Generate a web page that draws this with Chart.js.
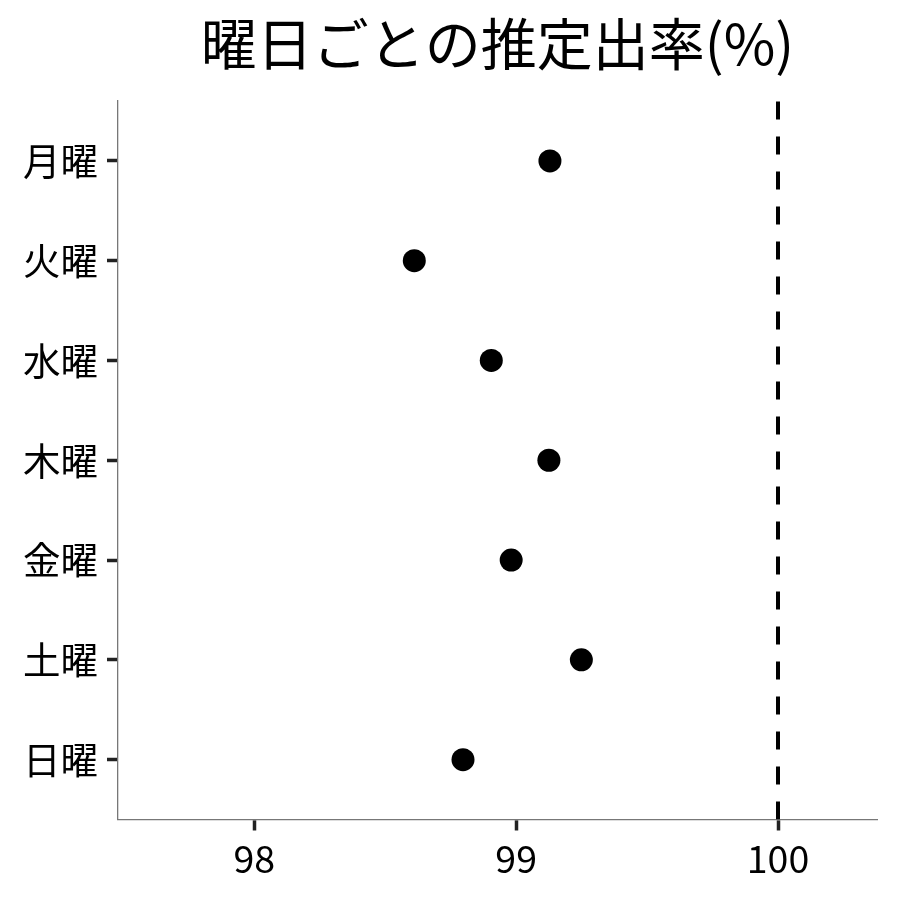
<!DOCTYPE html>
<html>
<head>
<meta charset="utf-8">
<script src="https://cdn.jsdelivr.net/npm/chart.js@4.4.1/dist/chart.umd.min.js"></script>
<style>
  html, body { margin: 0; padding: 0; background: #ffffff; }
  #wrap { width: 900px; height: 900px; }
</style>
</head>
<body>
<div id="wrap"><canvas id="c" width="900" height="900"></canvas></div>
<script>
// ---- data ----
const days = ["月曜", "火曜", "水曜", "木曜", "金曜", "土曜", "日曜"];
const rates = [99.129, 98.611, 98.905, 99.125, 98.981, 99.249, 98.797];
const xTicks = [98, 99, 100];
const refValue = 100;
const titleText = "曜日ごとの推定出率(%)";

const FONT = "'Noto Sans CJK JP', 'Noto Sans', sans-serif";

const refLine = {
  id: 'refLine',
  afterDatasetsDraw(chart) {
    const ctx = chart.ctx;
    const x = chart.scales.x.getPixelForValue(refValue);
    const area = chart.chartArea;
    ctx.save();
    ctx.beginPath();
    ctx.rect(area.left, area.top, area.right - area.left, area.bottom - area.top);
    ctx.clip();
    ctx.strokeStyle = '#000000';
    ctx.lineWidth = 4;
    ctx.setLineDash([18, 17]);
    ctx.beginPath();
    ctx.moveTo(x, area.bottom);
    ctx.lineTo(x, area.top);
    ctx.stroke();
    ctx.restore();
  }
};

const chart = new Chart(document.getElementById('c'), {
  type: 'scatter',
  data: {
    datasets: [{
      data: rates.map((v, i) => ({ x: v, y: i })),
      backgroundColor: '#000000',
      borderWidth: 0,
      pointRadius: 11.5,
      pointHoverRadius: 11.5
    }]
  },
  options: {
    responsive: false,
    animation: false,
    events: [],
    layout: { padding: { left: 0, right: 23, top: 0, bottom: 0 } },
    plugins: {
      legend: { display: false },
      tooltip: { enabled: false },
      title: {
        display: true,
        text: titleText,
        fullSize: false,
        color: '#000000',
        font: { family: FONT, size: 56, weight: 'normal', lineHeight: 1.2 },
        padding: { top: 10, bottom: 23.8 }
      }
    },
    scales: {
      x: {
        type: 'linear',
        position: 'bottom',
        min: 97.4795,
        max: 100.378,
        afterBuildTicks: (s) => { s.ticks = xTicks.map(v => ({ value: v })); },
        afterFit: (s) => { s.height = 80.5; },
        ticks: {
          color: '#000000',
          font: { family: FONT, size: 37.5 },
          padding: 6,
          callback: (v) => String(v)
        },
        grid: {
          drawOnChartArea: false,
          drawTicks: true,
          tickLength: 11,
          tickWidth: 3.5,
          tickColor: '#222222'
        },
        border: { display: true, color: '#777777', width: 1.3 }
      },
      y: {
        type: 'linear',
        reverse: true,
        min: -0.6,
        max: 6.6,
        afterBuildTicks: (s) => { s.ticks = days.map((d, i) => ({ value: i })); },
        afterFit: (s) => { s.width = 118; },
        ticks: {
          color: '#000000',
          font: { family: FONT, size: 37.5 },
          padding: 9,
          callback: (v) => days[v]
        },
        grid: {
          drawOnChartArea: false,
          drawTicks: true,
          tickLength: 11,
          tickWidth: 3.5,
          tickColor: '#222222'
        },
        border: { display: true, color: '#777777', width: 1.3 }
      }
    }
  },
  plugins: [refLine]
});
</script>
</body>
</html>
